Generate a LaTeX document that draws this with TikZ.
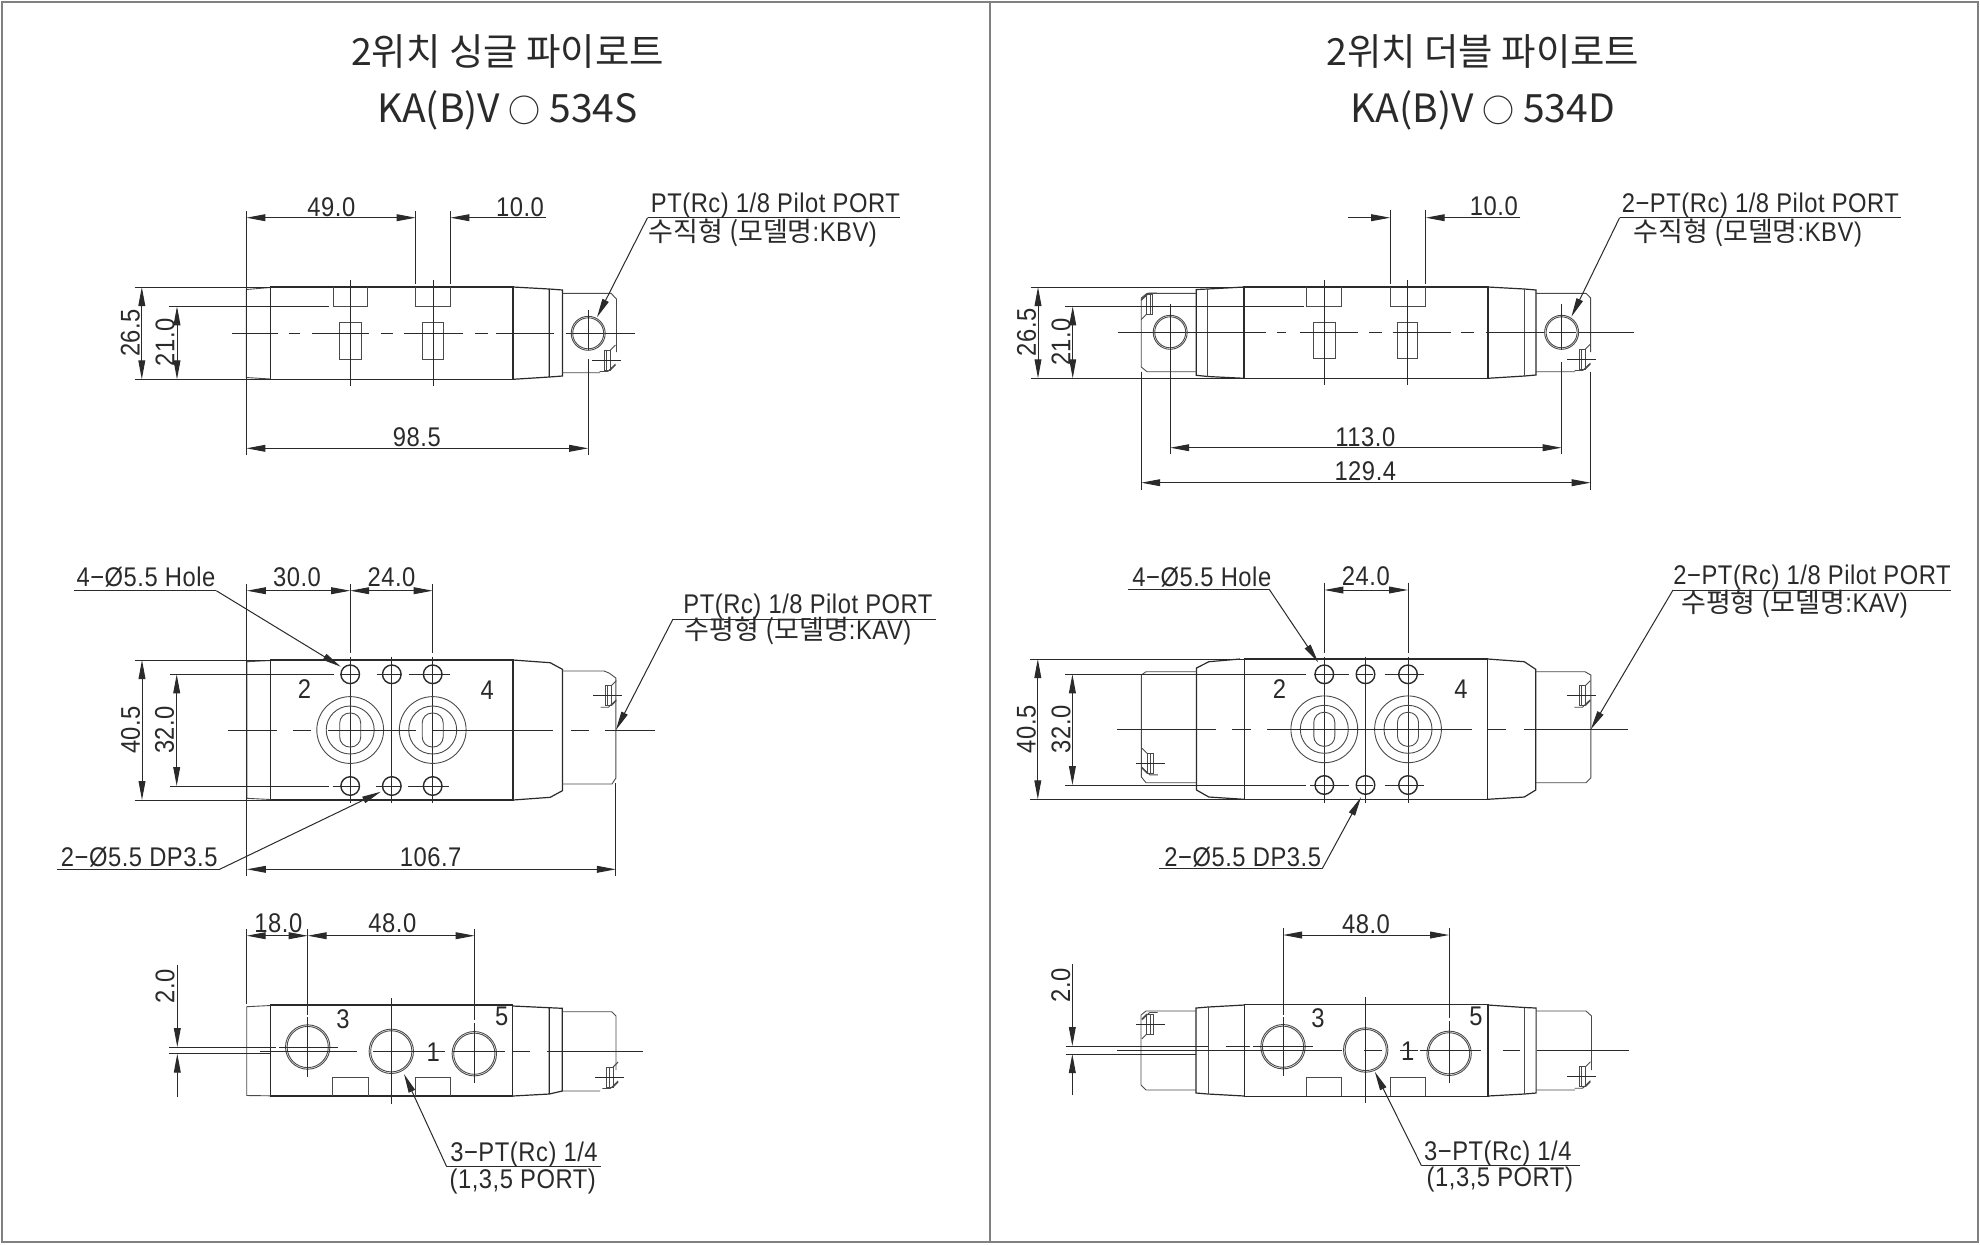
\documentclass[tikz,border=0pt]{standalone}
\usepackage{fontspec}
\usetikzlibrary{arrows.meta}
\setmainfont[FakeStretch=0.88,LetterSpace=2]{Liberation Sans}
\newfontfamily\cjk{Noto Sans CJK KR}
\definecolor{ink}{HTML}{2A2A2A}
\definecolor{frame}{HTML}{808080}
\definecolor{thin}{HTML}{4A4A4A}
\tikzset{
  x=0.5pt,y=-0.5pt,
  every path/.style={line join=miter},
  body/.style={draw=ink,line width=0.7pt},
  fine/.style={draw=thin,line width=0.45pt},
  cl/.style={draw=ink,line width=0.45pt},
  dimline/.style={draw=ink,line width=0.5pt},
  dimarrow/.style={dimline,{Triangle[length=9.5pt,width=3.4pt]}-{Triangle[length=9.5pt,width=3.4pt]}},
  onearrow/.style={dimline,-{Triangle[length=9.5pt,width=3.4pt]}},
  lab/.style={inner sep=0pt,text=ink,font=\fontsize{13.5}{15}\selectfont},
  title/.style={inner sep=0pt,text=ink,font=\cjk\fontsize{18.7}{22}\selectfont},
  model/.style={inner sep=0pt,text=ink,font=\cjk\fontsize{19.5}{22}\selectfont},
}
\newcommand{\hseg}[2]{\foreach \a/\b in {#2}{\draw[cl] (\a,#1)--(\b,#1);}}
\newcommand{\vseg}[2]{\foreach \a/\b in {#2}{\draw[cl] (#1,\a)--(#1,\b);}}
\newcommand{\plugbody}[4]{\begin{scope}[shift={(#1,#2)},xscale=#3,yscale=#4]
  \draw[fine] (-2.4,-10) rectangle (3.8,10);
  \draw[fine] (3.8,-10)--(8.8,-15) (3.8,10)--(8.8,5) (-7,11.5)--(1,11.5)--(8.8,4);
  \draw[fine] (0,-10)--(0,10);
\end{scope}}
\newcommand{\plug}[4]{\plugbody{#1}{#2}{#3}{#4}\draw[cl] (#1-14.5,#2)--(#1+14.5,#2);}
\newcommand{\port}[2]{\draw[fine] (#1,#2) circle[radius=15.5];\draw[fine] (#1,#2) circle[radius=17];}
\newcommand{\bigport}[2]{\draw[fine] (#1,#2) circle[radius=20.6];\draw[fine] (#1,#2) circle[radius=22.2];}
\newcommand{\hole}[2]{\draw[body] (#1,#2) circle[radius=9.3];}
\newcommand{\flange}[2]{\draw[fine] (#1,#2) circle[radius=33.4];
  \draw[fine] (#1,#2) circle[radius=24];
  \draw[fine,rounded corners=5pt] (#1-10.5,#2-17) rectangle (#1+10.5,#2+17);}
\newcommand{\smallo}{{\fontsize{16}{18}\selectfont ○}}
\begin{document}
\begin{tikzpicture}
\useasboundingbox (0,0) rectangle (1980,1244);
\fill[white] (0,0) rectangle (1980,1244);
\draw[frame,line width=1pt] (2,2) rectangle (1978,1241.5);
\draw[frame,line width=1pt] (990,2)--(990,1241.5);

% titles
\node[title] (t1) at (507.6,52) {2위치 싱글 파이로트};
\node[model] (t2) at (507.6,110.5) {KA(B)V \smallo\ 534S};
\node[title] (t3) at (1483,52) {2위치 더블 파이로트};
\node[model] (t4) at (1483,110.5) {KA(B)V \smallo\ 534D};

%%%%%%%%%%%%% LEFT TOP
\draw[body] (270.4,287) rectangle (513,379.3);
\draw[fine] (270.4,287.5)--(246.4,289.5)--(246.4,377.5)--(270.4,379);
\draw[body,line width=.6pt] (513,287)--(549.3,289)--(562.5,290)--(562.5,376)--(549.3,377)--(513,379.3) (549.3,289)--(549.3,377);
\draw[fine] (562.5,293.3)--(611,293.3)--(616.5,299)--(616.5,352) (562.5,372.7)--(600,372.7);
\plug{606.7}{360}{1}{1}
\draw[fine] (333.2,287)--(333.2,306.3)--(367.9,306.3)--(367.9,287);
\draw[fine] (415.7,287)--(415.7,306.3)--(450.4,306.3)--(450.4,287);
\draw[fine] (339.6,322.3) rectangle (361.4,359.3);
\draw[fine] (422.5,322.3) rectangle (443.9,359.3);
\vseg{350.4}{280/386}
\vseg{433.2}{280/386}
\hseg{333.3}{232.1/277.5,289.3/300,311.8/368.9,381/392.9,404/462.5,475/487.5,496.4/554.3,565.7/634.6}
\port{588.2}{333.3}
\vseg{588.2}{310/350,359/455.3}
\draw[dimline] (134.6,287)--(270.4,287) (134.6,379.3)--(270.4,379.3) (169,306.3)--(328.6,306.3);
\draw[dimline] (246.4,211)--(246.4,455.3) (415.7,211)--(415.7,284) (450.4,211)--(450.4,284);
\draw[dimarrow] (246.4,217.7)--(415.7,217.7);
\draw[onearrow] (546.4,217.7)--(450.4,217.7);
\draw[dimarrow] (141.8,287)--(141.8,379.3);
\draw[dimarrow] (177,306.3)--(177,379.3);
\draw[dimarrow] (246.4,448.3)--(588.2,448.3);
\draw[onearrow] (647.5,217.7)--(597,317.3);
\draw[dimline] (647.5,217.7)--(900,217.7);
\node[lab] (a1) at (331.4,206.7) {49.0};
\node[lab] (a2) at (520,206.7) {10.0};
\node[lab,rotate=90] (a3) at (130.4,333) {26.5};
\node[lab,rotate=90] (a4) at (165,342.3) {21.0};
\node[lab] (a5) at (416.8,436.7) {98.5};
\node[lab] (a6) at (775.4,205.5) {PT(Rc) 1/8 Pilot PORT};
\node[lab] (a7) at (762.7,233) {{\cjk 수직형 (모델명}:KBV)};

%%%%%%%%%%%%% LEFT FRONT
\draw[body] (270.6,660) rectangle (513,800);
\draw[fine] (270.6,660.5)--(246.9,661.7)--(246.9,798.3)--(270.6,799.5);
\draw[body,line width=.6pt] (513,660)--(550.2,662.7)--(562.4,669.3)--(562.4,790.7)--(550.2,797.3)--(513,800);
\draw[fine] (562.4,671)--(604,671)--(609,673)--(615.9,678)--(615.9,778)--(612,784)--(562.4,784);
\plug{607.5}{695.7}{1}{1}
\foreach \x in {350.2,391.8,432.7}{\hole{\x}{674.3}\hole{\x}{786}\vseg{\x}{656.7/803.3}}
\flange{350.2}{730}\flange{432.7}{730}
\hseg{730}{227.8/276.7,293/311,327.8/415.5,432.7/553.4,570.6/589,605/654.7}
\hseg{674.3}{169.8/333.9,340/360.4,376.7/401.2,409.4/450.2}
\hseg{786}{169.8/329,332.6/360,376/401,408/448.6}
\draw[dimline] (134.7,660)--(270.6,660) (134.7,800)--(270.6,800);
\draw[dimline] (246.9,584)--(246.9,876) (350.2,584)--(350.2,653) (432.7,584)--(432.7,653) (615.9,783.3)--(615.9,876);
\draw[dimarrow] (246.9,590.7)--(350.2,590.7);
\draw[dimarrow] (350.2,590.7)--(432.7,590.7);
\draw[dimarrow] (142,660)--(142,800);
\draw[dimarrow] (176.7,674.3)--(176.7,786);
\draw[dimarrow] (246.9,869.3)--(615.9,869.3);
\draw[onearrow] (216.3,590.7)--(340.8,666.7);
\draw[dimline] (73.9,590.7)--(216.3,590.7);
\draw[onearrow] (219.6,869.3)--(380.8,791.7);
\draw[dimline] (57,869.3)--(219.6,869.3);
\draw[onearrow] (673,619)--(615.9,730);
\draw[dimline] (673,619)--(935.7,619);
\node[lab] (b1) at (146,576.7) {4−Ø5.5 Hole};
\node[lab] (b2) at (139.2,857.3) {2−Ø5.5 DP3.5};
\node[lab] (b3) at (297,576.7) {30.0};
\node[lab] (b4) at (391.5,576.7) {24.0};
\node[lab,rotate=90] (b5) at (130.6,730) {40.5};
\node[lab,rotate=90] (b6) at (164.5,730) {32.0};
\node[lab] (b7) at (430.6,857.3) {106.7};
\node[lab] (b8) at (304.5,689) {2};
\node[lab] (b9) at (487.3,690) {4};
\node[lab] (b10) at (808,606.5) {PT(Rc) 1/8 Pilot PORT};
\node[lab] (b11) at (798,631.5) {{\cjk 수평형 (모델명}:KAV)};

%%%%%%%%%%%%% LEFT BOTTOM
\draw[body] (270.3,1005) rectangle (512.7,1096);
\draw[fine] (270.3,1005.5)--(246.7,1006.7)--(246.7,1095.5)--(270.3,1095.8);
\draw[body,line width=.6pt] (512.7,1006)--(549.3,1007.7)--(562.3,1008.3)--(562.3,1091)--(549.3,1094)--(512.7,1096) (549.3,1007.7)--(549.3,1094);
\draw[fine] (562.3,1011.7)--(611.7,1011.7)--(616,1016)--(616,1070) (562.3,1091)--(600,1091);
\plug{609.3}{1077}{1}{1}
\draw[fine] (332.7,1096)--(332.7,1077.7)--(368,1077.7)--(368,1096);
\draw[fine] (415,1096)--(415,1077.7)--(450.3,1077.7)--(450.3,1096);
\bigport{307.7}{1047}\bigport{391.3}{1051.3}\bigport{474.3}{1053.7}
\hseg{1047}{169.3/276,279/337.7}
\hseg{1053.7}{169.3/270}
\hseg{1051}{260/356.7,373.3/445,453/505,513/530,546.7/643}
\vseg{391.3}{998.3/1104}
\vseg{307.7}{929/1015,1017/1077}
\vseg{474.7}{929/1020,1023/1083}
\draw[dimline] (246.7,929)--(246.7,1004);
\draw[dimarrow] (246.7,935.7)--(307.7,935.7);
\draw[dimarrow] (307.7,935.7)--(474.7,935.7);
\draw[onearrow] (177.3,965)--(177.3,1047);
\draw[onearrow] (177.3,1096.7)--(177.3,1053.7);
\draw[onearrow] (446.7,1166.7)--(404,1074);
\draw[dimline] (446.7,1166.7)--(600.7,1166.7);
\node[lab] (c1) at (278.3,923.3) {18.0};
\node[lab] (c2) at (392.3,923.3) {48.0};
\node[lab,rotate=90] (c3) at (165,986) {2.0};
\node[lab] (c4) at (343,1019) {3};
\node[lab] (c5) at (501.7,1016.7) {5};
\node[lab] (c6) at (433.3,1051.7) {1};
\node[lab] (c7) at (524,1154) {3−PT(Rc) 1/4};
\node[lab] (c8) at (522.7,1181) {(1,3,5 PORT)};

%%%%%%%%%%%%% RIGHT TOP
\draw[body] (1244.1,287) rectangle (1487.8,378.3);
\draw[body,line width=.6pt] (1244.1,287)--(1207.8,289)--(1196.3,289.5)--(1196.3,375.3)--(1207.8,376.5)--(1244.1,378.3);
\draw[fine] (1207.8,289)--(1207.8,376.5);
\draw[body,line width=.6pt] (1487.8,287)--(1524.5,289)--(1535.9,290)--(1535.9,375)--(1524.5,376)--(1487.8,378.3);
\draw[fine] (1524.5,289)--(1524.5,376);
\draw[fine] (1196.3,293.3)--(1147,293.3)--(1141.2,298)--(1141.2,367)--(1147,371.7)--(1196.3,371.7);
\plugbody{1150}{304.5}{-1}{-1}
\draw[fine] (1535.9,293.3)--(1586,293.3)--(1590.6,298)--(1590.6,352) (1535.9,371.7)--(1575,371.7);
\plug{1581.6}{359}{1}{1}
\draw[fine] (1306.9,287)--(1306.9,306.3)--(1341.6,306.3)--(1341.6,287);
\draw[fine] (1390.2,287)--(1390.2,306.3)--(1425.7,306.3)--(1425.7,287);
\draw[fine] (1313.9,322.3) rectangle (1335.1,358.3);
\draw[fine] (1397.6,322.3) rectangle (1417.6,358.3);
\vseg{1324.5}{280/385}
\vseg{1407.8}{280/385}
\hseg{332.3}{1117.6/1266,1276.7/1285.7,1300/1358.4,1369.4/1381.6,1392.7/1451,1461.2/1473.5,1485.7/1545,1549/1575.5,1578.8/1633.5}
\port{1170.2}{332.3}\port{1561.6}{332.3}
\vseg{1170.2}{304/454}
\vseg{1561.6}{304/350,361.7/454}
\draw[dimline] (1030.6,287)--(1244,287) (1030.6,378.3)--(1244,378.3) (1065.3,306.3)--(1304,306.3);
\draw[dimline] (1390.2,210)--(1390.2,284) (1425.7,210)--(1425.7,284);
\draw[dimline] (1141.2,371.7)--(1141.2,490) (1590.6,371.7)--(1590.6,490);
\draw[onearrow] (1348.2,217.7)--(1390.2,217.7);
\draw[onearrow] (1520.4,217.7)--(1425.7,217.7);
\draw[dimarrow] (1038,287)--(1038,378.3);
\draw[dimarrow] (1072.7,306.3)--(1072.7,378.3);
\draw[dimarrow] (1170.2,447.7)--(1561.6,447.7);
\draw[dimarrow] (1141.2,482.7)--(1590.6,482.7);
\draw[onearrow] (1619.6,217.7)--(1571.4,316.7);
\draw[dimline] (1619.6,217.7)--(1900.5,217.7);
\node[lab] (d1) at (1493.9,205.7) {10.0};
\node[lab,rotate=90] (d2) at (1026.5,332.3) {26.5};
\node[lab,rotate=90] (d3) at (1061,342) {21.0};
\node[lab] (d4) at (1365.3,436.7) {113.0};
\node[lab] (d5) at (1365.3,471) {129.4};
\node[lab] (d6) at (1760.4,205.5) {2−PT(Rc) 1/8 Pilot PORT};
\node[lab] (d7) at (1747.7,233) {{\cjk 수직형 (모델명}:KBV)};

%%%%%%%%%%%%% RIGHT FRONT
\draw[body] (1244.3,659) rectangle (1487.6,799.3);
\draw[body,line width=.6pt] (1240,659)--(1208.8,661.7)--(1196.5,668)--(1196.5,790)--(1208.8,797)--(1244.3,799.3);
\draw[body,line width=.6pt] (1487.6,659)--(1524.3,661.7)--(1535.7,669.3)--(1535.7,790)--(1524.3,797)--(1487.6,799.3);
\draw[fine] (1196.5,671.7)--(1146,671.7)--(1141.4,675)--(1141.4,777)--(1146,782.7)--(1196.5,782.7);
\plug{1150.8}{763.3}{-1}{1}
\draw[fine] (1535.7,671.7)--(1585,671.7)--(1590.8,675)--(1590.8,778)--(1586,782.7)--(1535.7,782.7);
\plug{1581.4}{695.7}{1}{1}
\foreach \x in {1324.3,1365.5,1408}{\hole{\x}{674.3}\hole{\x}{785}\vseg{\x}{657/803}}
\flange{1324.3}{729.3}\flange{1408}{729.3}
\hseg{729.3}{1117/1216,1232.4/1250.8,1267/1472,1487.6/1506,1523.5/1628}
\hseg{674.3}{1065/1306,1314/1348.8,1357/1373,1384.7/1424.3}
\hseg{785}{1065/1306,1310/1348.8,1357/1373,1384.7/1424.3}
\draw[dimline] (1030.4,659)--(1244.3,659) (1030.4,799.3)--(1244.3,799.3);
\draw[dimline] (1324.3,582.7)--(1324.3,653.3) (1408,582.7)--(1408,653.3);
\draw[dimarrow] (1324.3,590)--(1408,590);
\draw[dimarrow] (1037.8,659)--(1037.8,799.3);
\draw[dimarrow] (1072.4,674.3)--(1072.4,785);
\draw[onearrow] (1269.2,589.3)--(1318.2,662.3);
\draw[dimline] (1127.6,589.3)--(1269.2,589.3);
\draw[onearrow] (1322.2,868.7)--(1361,797.3);
\draw[dimline] (1159,868.7)--(1322.2,868.7);
\draw[onearrow] (1673,590)--(1590.8,729.3);
\draw[dimline] (1673,590)--(1951,590);
\node[lab] (e1) at (1201.8,576.7) {4−Ø5.5 Hole};
\node[lab] (e2) at (1242.7,857.3) {2−Ø5.5 DP3.5};
\node[lab] (e3) at (1365.9,575.7) {24.0};
\node[lab,rotate=90] (e4) at (1026.3,729.3) {40.5};
\node[lab,rotate=90] (e5) at (1061,729.3) {32.0};
\node[lab] (e6) at (1279.4,689) {2};
\node[lab] (e7) at (1461,689.3) {4};
\node[lab] (e8) at (1812,577.5) {2−PT(Rc) 1/8 Pilot PORT};
\node[lab] (e9) at (1794.5,604.5) {{\cjk 수평형 (모델명}:KAV)};

%%%%%%%%%%%%% RIGHT BOTTOM
\draw[body] (1244.3,1004.3) rectangle (1487.9,1096.3);
\draw[body,line width=.6pt] (1244.3,1005)--(1208,1007)--(1196,1008)--(1196,1093)--(1208,1094)--(1244.3,1096);
\draw[fine] (1208,1007)--(1208,1094);
\draw[body,line width=.6pt] (1487.9,1005)--(1524.3,1007.5)--(1536.1,1008)--(1536.1,1093)--(1524.3,1094)--(1487.9,1096);
\draw[fine] (1524.3,1007.5)--(1524.3,1094);
\draw[fine] (1196,1011)--(1146,1011)--(1141,1015)--(1141,1085)--(1146,1090)--(1196,1090);
\plug{1150.6}{1024}{-1}{-1}
\draw[fine] (1536.1,1011)--(1586,1011)--(1591.5,1016)--(1591.5,1070) (1536.1,1090)--(1575,1090);
\plug{1581.6}{1076.7}{1}{1}
\draw[fine] (1306.8,1096)--(1306.8,1077.3)--(1341.6,1077.3)--(1341.6,1096);
\draw[fine] (1390.6,1096)--(1390.6,1077.3)--(1425.4,1077.3)--(1425.4,1096);
\bigport{1283}{1046.7}\bigport{1365.7}{1050}\bigport{1449.1}{1053.3}
\hseg{1046}{1065.6/1208,1225.7/1249.5,1253.4/1312.7}
\hseg{1054}{1065.6/1196}
\hseg{1050}{1117/1342.4,1364/1382,1399.7/1417.5,1419.5/1480.8,1502.5/1520.3,1537/1629}
\vseg{1365.7}{997.3/1103.3}
\vseg{1283}{928.3/1015,1017/1076}
\vseg{1449.1}{928.3/1018,1021/1083}
\draw[dimarrow] (1283,935)--(1449.1,935);
\draw[onearrow] (1072.3,964)--(1072.3,1046);
\draw[onearrow] (1072.3,1095.3)--(1072.3,1054);
\draw[onearrow] (1421.5,1165.7)--(1374.8,1071.7);
\draw[dimline] (1421.5,1165.7)--(1579.6,1165.7);
\node[lab] (f1) at (1366,924) {48.0};
\node[lab,rotate=90] (f2) at (1060.8,985) {2.0};
\node[lab] (f3) at (1317.9,1018.3) {3};
\node[lab] (f4) at (1476,1016.7) {5};
\node[lab] (f5) at (1407.6,1050.7) {1};
\node[lab] (f6) at (1497.8,1153) {3−PT(Rc) 1/4};
\node[lab] (f7) at (1499.8,1179) {(1,3,5 PORT)};
\end{tikzpicture}
\end{document}
